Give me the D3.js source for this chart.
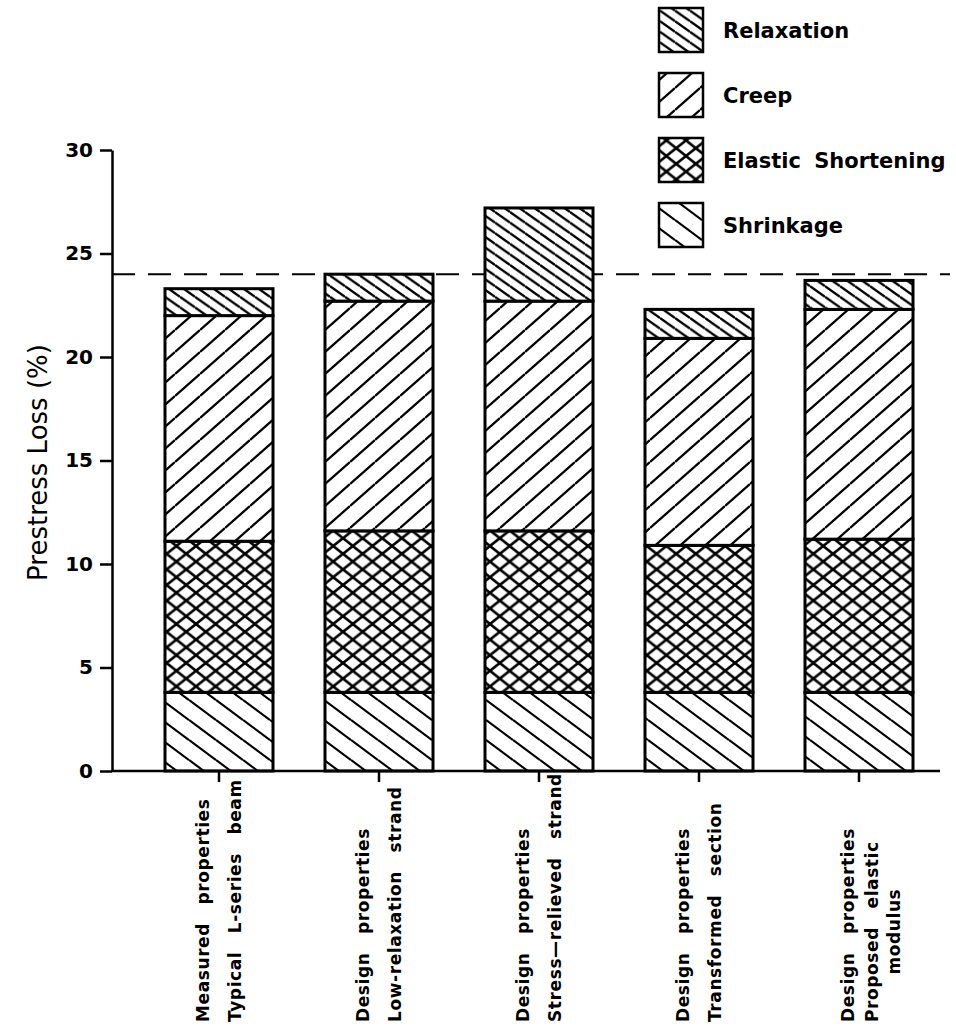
<!DOCTYPE html>
<html><head><meta charset="utf-8">
<script src="https://cdn.jsdelivr.net/npm/d3@7"></script>
<style>
body{margin:0;background:#fff;}
svg{display:block;}
</style></head><body>
<svg id="chart" width="956" height="1036"></svg>
<script>
// ---- data ----
const categories = [
  ["Measured properties", "Typical L-series beam"],
  ["Design properties", "Low-relaxation strand"],
  ["Design properties", "Stress\u2014relieved strand"],
  ["Design properties", "Transformed section"],
  ["Design properties", "Proposed elastic", "modulus"]
];
const seriesNames = ["Shrinkage", "Elastic Shortening", "Creep", "Relaxation"];
const shrinkage         = [3.8, 3.8, 3.8, 3.8, 3.8];
const elasticShortening = [7.3, 7.8, 7.8, 7.1, 7.4];
const creep             = [10.9, 11.1, 11.1, 10.0, 11.1];
const relaxation        = [1.3, 1.3, 4.5, 1.4, 1.4];
const yTicks = [0, 5, 10, 15, 20, 25, 30];
const referenceLine = 24;
const yLabel = "Prestress Loss (%)";

// ---- build table ----
const seriesValues = [shrinkage, elasticShortening, creep, relaxation];
const table = categories.map((c, i) => {
  const row = {idx: i};
  seriesNames.forEach((s, k) => row[s] = seriesValues[k][i]);
  return row;
});

const svg = d3.select("#chart");
const axisX = 112, xEnd = 940;
const y = d3.scaleLinear().domain([0, 30]).range([771, 150]);
const x = d3.scaleBand().domain(d3.range(categories.length))
  .range([139, 939]).paddingInner(0.325).paddingOuter(0.1625);

// ---- hatch patterns ----
const defs = svg.append("defs");
const patSpec = {
  "Shrinkage":          {W: 27, H: 20, dirs: ["back"], sw: 2.2},
  "Elastic Shortening": {W: 19.6, H: 15.6, dirs: ["back", "fwd"], sw: 2.6},
  "Creep":              {W: 25, H: 22, dirs: ["fwd"], sw: 2.3},
  "Relaxation":         {W: 15, H: 10.6, dirs: ["back"], sw: 2.3}
};
const pid = s => "p" + s.replace(/\s/g, "");
seriesNames.forEach(s => {
  const p = patSpec[s];
  const pat = defs.append("pattern").attr("id", pid(s))
    .attr("patternUnits", "userSpaceOnUse")
    .attr("width", p.W).attr("height", p.H);
  pat.append("rect").attr("width", p.W).attr("height", p.H).attr("fill", "#fff");
  p.dirs.forEach(d => {
    [-1, 0, 1].forEach(k => {
      let x1, y1, x2, y2;
      if (d === "back") { x1 = 0; y1 = k * p.H; x2 = p.W; y2 = (k + 1) * p.H; }
      else { x1 = 0; y1 = (1 + k) * p.H; x2 = p.W; y2 = k * p.H; }
      pat.append("line").attr("x1", x1).attr("y1", y1).attr("x2", x2).attr("y2", y2)
        .attr("stroke", "#000").attr("stroke-width", p.sw);
    });
  });
});

// ---- reference dashed line (behind bars) ----
svg.append("line")
  .attr("x1", axisX).attr("x2", 950)
  .attr("y1", y(referenceLine)).attr("y2", y(referenceLine))
  .attr("stroke", "#000").attr("stroke-width", 2)
  .attr("stroke-dasharray", "23,13");

// ---- stacked bars ----
const stack = d3.stack().keys(seriesNames)(table);
stack.forEach(layer => {
  svg.append("g").selectAll("rect").data(layer).join("rect")
    .attr("x", d => x(d.data.idx))
    .attr("width", x.bandwidth())
    .attr("y", d => y(d[1]))
    .attr("height", d => y(d[0]) - y(d[1]))
    .attr("fill", `url(#${pid(layer.key)})`)
    .attr("stroke", "#000").attr("stroke-width", 3);
});

// ---- axes ----
const fontTick = "'DejaVu Sans', sans-serif";
const yAxis = svg.append("g").attr("transform", `translate(${axisX},0)`)
  .call(d3.axisLeft(y).tickValues(yTicks).tickSize(12).tickSizeOuter(0).tickPadding(7));
yAxis.select(".domain").attr("stroke-width", 2.5);
yAxis.selectAll(".tick line").attr("stroke-width", 2.5);
yAxis.selectAll(".tick text").attr("font-family", fontTick)
  .attr("font-weight", "bold").attr("font-size", 20).attr("fill", "#000");

const xAxis = svg.append("g").attr("transform", `translate(0,${y(0)})`)
  .call(d3.axisBottom(x).tickSize(11).tickSizeOuter(0).tickFormat(""));
xAxis.select(".domain").remove();
xAxis.selectAll(".tick line").attr("stroke-width", 2.5);
svg.append("line").attr("x1", axisX).attr("x2", xEnd)
  .attr("y1", y(0)).attr("y2", y(0)).attr("stroke", "#000").attr("stroke-width", 2.5);

// ---- category labels (rotated) ----
const offsets = {2: [-16, 16], 3: [-11, 13, 35]};
categories.forEach((lines, i) => {
  const cx = x(i) + x.bandwidth() / 2;
  const offs = offsets[lines.length];
  let firstLen = null;
  lines.forEach((t, j) => {
    const g = svg.append("text")
      .attr("font-family", fontTick).attr("font-weight", "bold")
      .attr("font-size", 17).attr("letter-spacing", 0.6).attr("word-spacing", 12)
      .attr("fill", "#000").attr("dy", "0.36em")
      .text(t);
    let yy = 1022, anchor = "start";
    if (j === 2) { anchor = "middle"; yy = 1022 - firstLen / 2; }
    g.attr("text-anchor", anchor)
      .attr("transform", `translate(${cx + offs[j]},${yy}) rotate(-90)`);
    if (j === 1) firstLen = g.node().getComputedTextLength();
  });
});

// ---- y label ----
svg.append("text")
  .attr("transform", `translate(38,${(y(0) + y(30)) / 2 + 2}) rotate(-90)`)
  .attr("text-anchor", "middle").attr("dy", "0.36em")
  .attr("font-family", "'DejaVu Sans', sans-serif").attr("font-size", 26)
  .attr("fill", "#000").text(yLabel);

// ---- legend ----
const legendOrder = seriesNames.slice().reverse();
const lg = svg.append("g");
legendOrder.forEach((s, i) => {
  const top = 8 + i * 65;
  lg.append("rect").attr("x", 659).attr("y", top).attr("width", 44).attr("height", 44)
    .attr("fill", `url(#${pid(s)})`).attr("stroke", "#000").attr("stroke-width", 2.5);
  lg.append("text").attr("x", 723).attr("y", top + 22).attr("dy", "0.36em")
    .attr("font-family", fontTick).attr("font-weight", "bold").attr("font-size", 21)
    .attr("word-spacing", 6).attr("fill", "#000").text(s);
});
</script>
</body></html>
